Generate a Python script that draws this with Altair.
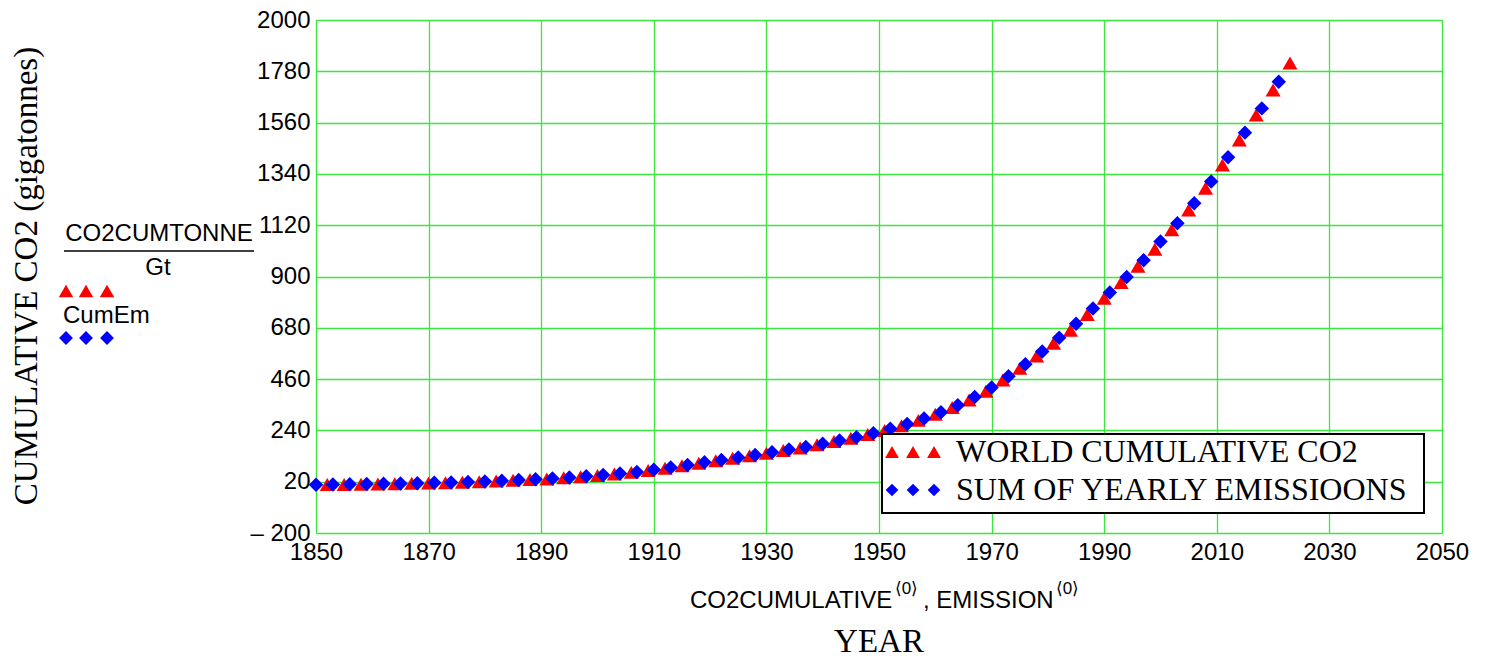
import altair as alt
import pandas as pd

# ---------------- data ----------------
world_years = [1852, 1855, 1858, 1861, 1864, 1867, 1870, 1873, 1876, 1879,
               1882, 1885, 1888, 1891, 1894, 1897, 1900, 1903, 1906, 1909,
               1912, 1915, 1918, 1921, 1924, 1927, 1930, 1933, 1936, 1939,
               1942, 1945, 1948, 1951, 1954, 1957, 1960, 1963, 1966, 1969,
               1972, 1975, 1978, 1981, 1984, 1987, 1990, 1993, 1996, 1999,
               2002, 2005, 2008, 2011, 2014, 2017, 2020, 2023]
world_cum = [7.5, 8.5, 9.5, 10.5, 11.5, 13, 14, 16, 18, 20,
             23, 26, 29, 32, 37, 41, 47, 53, 60, 68,
             78, 88, 99, 110, 121, 131, 142, 154, 165, 178,
             192, 206, 222, 240, 260, 283, 309, 338, 370, 408,
             456, 506, 559, 614, 670, 737, 807, 874, 944, 1017,
             1100, 1185, 1278, 1378, 1485, 1593, 1700, 1816]

sum_years = [1850, 1853, 1856, 1859, 1862, 1865, 1868, 1871, 1874, 1877,
             1880, 1883, 1886, 1889, 1892, 1895, 1898, 1901, 1904, 1907,
             1910, 1913, 1916, 1919, 1922, 1925, 1928, 1931, 1934, 1937,
             1940, 1943, 1946, 1949, 1952, 1955, 1958, 1961, 1964, 1967,
             1970, 1973, 1976, 1979, 1982, 1985, 1988, 1991, 1994, 1997,
             2000, 2003, 2006, 2009, 2012, 2015, 2018, 2021]
sum_cum = [7, 8, 9, 10, 11, 12, 13, 15, 17, 19,
           21, 24, 27, 30, 34, 38, 43, 49, 55, 62,
           71, 81, 92, 103, 113, 124, 135, 146, 158, 169,
           183, 197, 211, 228, 247, 267, 291, 318, 348, 383,
           424, 472, 524, 578, 637, 697, 763, 831, 898, 970,
           1050, 1128, 1214, 1307, 1411, 1517, 1621, 1735]

x_ticks = [1850, 1870, 1890, 1910, 1930, 1950, 1970, 1990, 2010, 2030, 2050]
y_ticks = [-200, 20, 240, 460, 680, 900, 1120, 1340, 1560, 1780, 2000]

series_names = ["WORLD CUMULATIVE CO2", "SUM OF YEARLY EMISSIOONS"]

# ---------------- style ----------------
W, H = 1126, 513
GREEN = "#3ce63c"
RED = "#ff0000"
BLUE = "#0000ff"
SANS = "Liberation Sans, DejaVu Sans, Arial"
SERIF = "Liberation Serif, Times New Roman, serif"
SANS_SIZE = 24
SERIF_SIZE = 32

df_w = pd.DataFrame({"year": world_years, "co2": world_cum})
df_s = pd.DataFrame({"year": sum_years, "co2": sum_cum})

xs = alt.Scale(domain=[1850, 2050], nice=False, zero=False)
ys = alt.Scale(domain=[-200, 2000], nice=False, zero=False)

xaxis = alt.Axis(values=x_ticks, format="d", title=None, grid=True,
                 gridColor=GREEN, gridWidth=1.3, gridOpacity=1, domain=False,
                 ticks=False, labelFont=SANS, labelFontSize=SANS_SIZE,
                 labelColor="black", labelPadding=7, labelFlush=False,
                 labelOverlap=False)
yaxis = alt.Axis(values=y_ticks, title=None, grid=True, gridColor=GREEN,
                 gridWidth=1.3, gridOpacity=1, domain=False, ticks=False,
                 labelFont=SANS, labelFontSize=SANS_SIZE, labelColor="black",
                 labelPadding=6, labelFlush=False, labelOverlap=False,
                 labelExpr="datum.value < 0 ? '\u2013 ' + format(-datum.value, 'd') : format(datum.value, 'd')")

tri = alt.Chart(df_w).mark_point(shape="triangle-up", filled=True, size=225,
                                 color=RED, opacity=1).encode(
    x=alt.X("year:Q", scale=xs, axis=xaxis),
    y=alt.Y("co2:Q", scale=ys, axis=yaxis))

dia = alt.Chart(df_s).mark_point(shape="diamond", filled=True, size=210,
                                 color=BLUE, opacity=1).encode(
    x=alt.X("year:Q", scale=xs, axis=xaxis),
    y=alt.Y("co2:Q", scale=ys, axis=yaxis))

one = pd.DataFrame({"k": [0]})


def txt(s, x, y, size, font, align="left", angle=0, baseline="alphabetic"):
    return alt.Chart(pd.DataFrame({"t": [s]})).mark_text(
        align=align, baseline=baseline, font=font, fontSize=size,
        color="black", angle=angle).encode(
        text="t:N", x=alt.value(x), y=alt.value(y))


def sym(shape, color, x, y, size):
    return alt.Chart(one).mark_point(shape=shape, filled=True, size=size,
                                     color=color, opacity=1).encode(
        x=alt.value(x), y=alt.value(y))


layers = [tri, dia]

# legend box inside plot
layers.append(alt.Chart(one).mark_rect(fill="white", stroke="black",
                                       strokeWidth=2).encode(
    x=alt.value(566), x2=alt.value(1108), y=alt.value(414), y2=alt.value(493)))
for dx in [576, 597, 618]:
    layers.append(sym("triangle-up", RED, dx, 432, 190))
    layers.append(sym("diamond", BLUE, dx, 470, 160))
layers.append(txt(series_names[0], 640, 442, SERIF_SIZE, SERIF))
layers.append(txt(series_names[1], 640, 480, SERIF_SIZE, SERIF))

# left side: y title and Mathcad-style labels
layers.append(txt("CUMULATIVE CO2 (gigatonnes)", -289, 256, 33, SERIF,
                  align="center", angle=270, baseline="middle"))
layers.append(txt("CO2CUMTONNE", -157, 221, SANS_SIZE, SANS, align="center"))
layers.append(alt.Chart(one).mark_rule(color="black", strokeWidth=1.5).encode(
    x=alt.value(-252), x2=alt.value(-62), y=alt.value(231)))
layers.append(txt("Gt", -158, 255, SANS_SIZE, SANS, align="center"))
for dx in [-250, -230, -209]:
    layers.append(sym("triangle-up", RED, dx, 271, 210))
layers.append(txt("CumEm", -253, 303, SANS_SIZE, SANS))
for dx in [-250, -230, -209]:
    layers.append(sym("diamond", BLUE, dx, 318, 190))

# bottom: x title pieces and YEAR
layers.append(txt("CO2CUMULATIVE", 374, 588, SANS_SIZE, SANS))
layers.append(txt("\u27e80\u27e9", 579, 574, 17, SANS))
layers.append(txt(", EMISSION", 607, 588, SANS_SIZE, SANS))
layers.append(txt("\u27e80\u27e9", 740, 574, 17, SANS))
layers.append(txt("YEAR", 563, 632, 33, SERIF, align="center"))

chart = alt.layer(*layers).properties(
    width=W, height=H,
    padding={"left": 308, "top": 12, "right": 30, "bottom": 127},
    autosize=alt.AutoSizeParams(type="none"),
).configure_view(stroke="black", strokeWidth=2).configure(background="white")

chart.save("out.html", embed_options={"renderer": "svg", "actions": False})
